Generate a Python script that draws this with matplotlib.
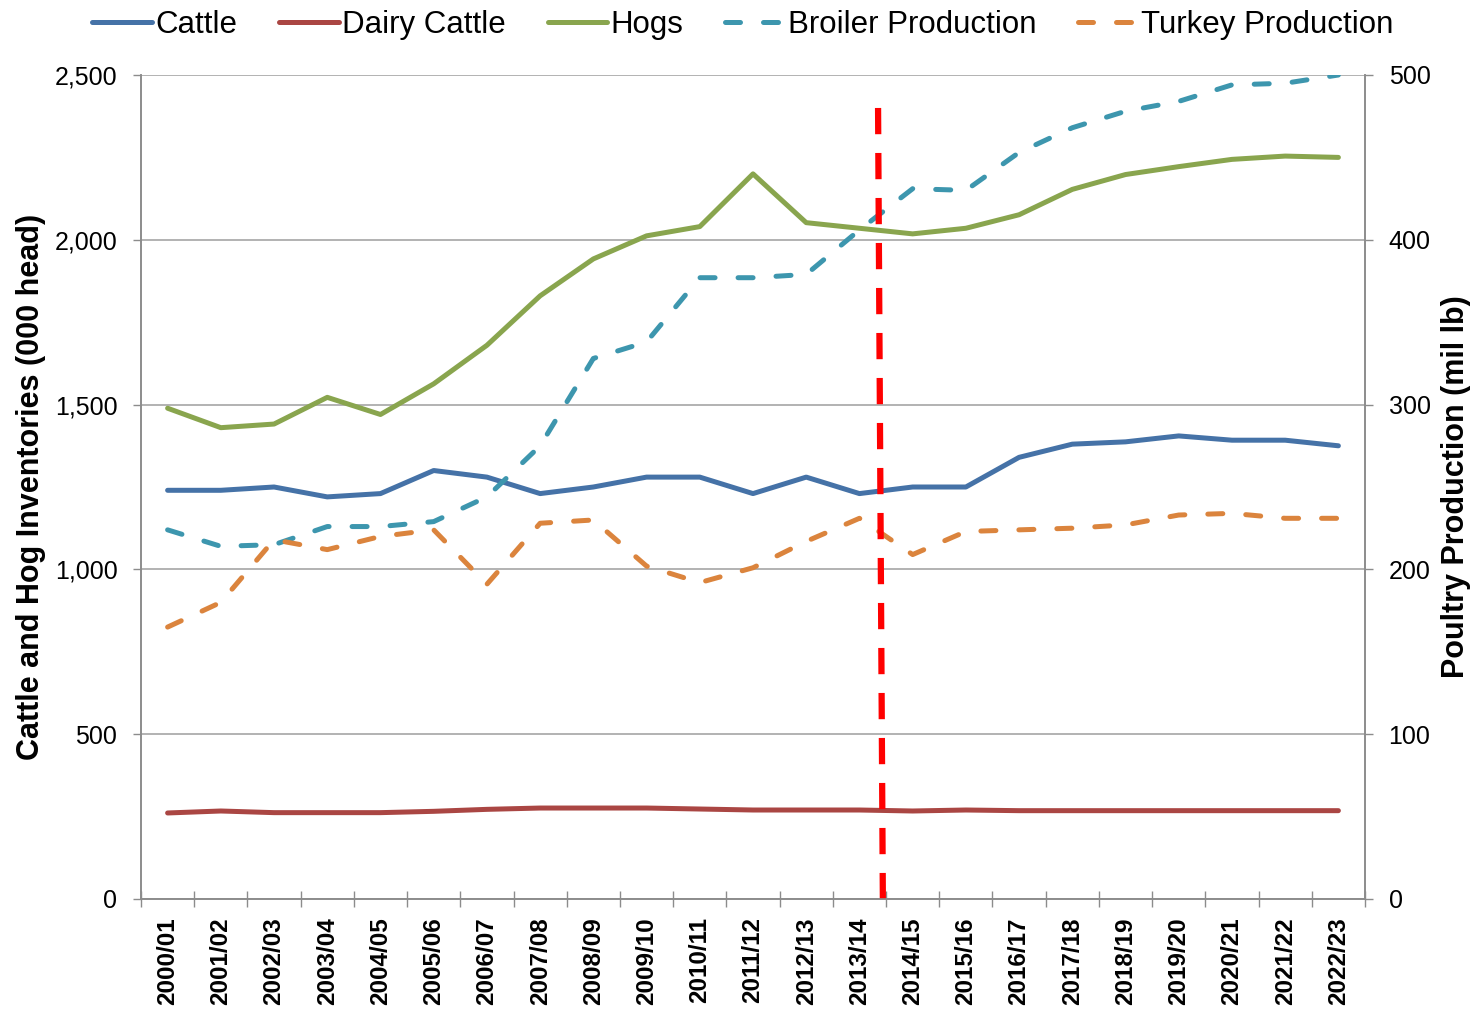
import matplotlib
matplotlib.use("Agg")
import matplotlib.pyplot as plt
from matplotlib.ticker import FuncFormatter, MultipleLocator
import numpy as np

plt.rcParams['font.family'] = ['Liberation Sans', 'DejaVu Sans']

years = ["2000/01", "2001/02", "2002/03", "2003/04", "2004/05", "2005/06", "2006/07",
         "2007/08", "2008/09", "2009/10", "2010/11", "2011/12", "2012/13", "2013/14",
         "2014/15", "2015/16", "2016/17", "2017/18", "2018/19", "2019/20", "2020/21",
         "2021/22", "2022/23"]

cattle = [1240, 1240, 1250, 1220, 1230, 1300, 1280, 1230, 1250, 1280, 1280, 1230,
          1280, 1230, 1250, 1250, 1340, 1380, 1387, 1405, 1392, 1392, 1375]
dairy = [261, 267, 262, 262, 262, 266, 272, 276, 276, 276, 273, 270,
         270, 270, 267, 270, 268, 268, 268, 268, 268, 268, 268]
hogs = [1489, 1430, 1441, 1522, 1470, 1563, 1680, 1830, 1942, 2012, 2040, 2200,
        2052, 2035, 2018, 2035, 2076, 2153, 2198, 2222, 2244, 2254, 2250]
broiler = [224, 214, 215, 226, 226, 229, 244, 275, 328, 338, 377, 377,
           379, 406, 431, 430, 453, 468, 478, 484, 494, 495, 500]
turkey = [165, 180, 218, 212, 220, 224, 191, 228, 230, 202, 192, 201,
          217, 231, 209, 223, 224, 225, 227, 233, 234, 231, 231]

# projection start marker (between 2013/14 and 2014/15), in right-axis units
marker_x = [13.35, 13.44]
marker_y = [480, 0]

c_cattle = "#4572A7"
c_dairy = "#AA4643"
c_hogs = "#89A54E"
c_broiler = "#3D96AE"
c_turkey = "#DB843D"
grid_c = "#A6A6A6"
spine_c = "#8C8C8C"

fig = plt.figure(figsize=(14.71, 10.13), dpi=100)
ax = fig.add_axes([141/1471, 1-899/1013, (1365-141)/1471, (899-75)/1013])
ax2 = ax.twinx()

x = np.arange(len(years))
lw = 3.6
l1, = ax.plot(x, cattle, color=c_cattle, lw=lw, label="Cattle", solid_capstyle='round', solid_joinstyle='round')
l2, = ax.plot(x, dairy, color=c_dairy, lw=lw, label="Dairy Cattle", solid_capstyle='round', solid_joinstyle='round')
l3, = ax.plot(x, hogs, color=c_hogs, lw=lw, label="Hogs", solid_capstyle='round', solid_joinstyle='round')
l4, = ax2.plot(x, broiler, color=c_broiler, lw=lw, label="Broiler Production",
               dashes=(3.0, 4.6), dash_capstyle='round', dash_joinstyle='round')
l5, = ax2.plot(x, turkey, color=c_turkey, lw=lw, label="Turkey Production",
               dashes=(3.0, 4.6), dash_capstyle='round', dash_joinstyle='round')
ax2.plot(marker_x, marker_y, color="#FF0000", lw=4.5, dashes=(4.2, 3.0), dash_capstyle='butt')

ax.set_xlim(-0.5, len(years) - 0.5)
ax.set_ylim(0, 2500)
ax2.set_ylim(0, 500)
ax.yaxis.set_major_locator(MultipleLocator(500))
ax2.yaxis.set_major_locator(MultipleLocator(100))
ax.yaxis.set_major_formatter(FuncFormatter(lambda v, p: f"{int(v):,}"))

ax.set_xticks(x)
ax.set_xticklabels(years, rotation=90, fontsize=17.5, fontweight='bold')
ax.set_xticks(np.arange(-0.5, len(years)), minor=True)
ax.tick_params(axis='x', which='major', length=0, pad=13)
ax.tick_params(axis='x', which='minor', length=11.5, direction='inout', color=spine_c, width=1)
ax.tick_params(axis='y', which='major', length=6, direction='out', color=spine_c, width=1,
               labelsize=18, pad=11)
ax2.tick_params(axis='y', which='major', length=6, direction='out', color=spine_c, width=1,
                labelsize=18, pad=11)

ax.yaxis.grid(True, color=grid_c, lw=1.2)
ax.set_axisbelow(True)

for a in (ax, ax2):
    a.spines['top'].set_visible(False)
    for s in ('left', 'right', 'bottom'):
        a.spines[s].set_color(spine_c)
        a.spines[s].set_linewidth(1.2)

ax.set_ylabel("Cattle and Hog Inventories (000 head)", fontsize=22, fontweight='bold')
ax.yaxis.set_label_coords(-0.078, 0.5)
ax2.set_ylabel("Poultry Production (mil lb)", fontsize=22, fontweight='bold')
ax2.yaxis.set_label_coords(1.062, 0.5)

fig.legend(handles=[l1, l2, l3, l4, l5], loc='center', bbox_to_anchor=(0.505, 0.975),
           ncol=5, frameon=False, fontsize=22.5, handlelength=1.9, handletextpad=0.1,
           columnspacing=1.35)

fig.savefig("out.png", dpi=100)
